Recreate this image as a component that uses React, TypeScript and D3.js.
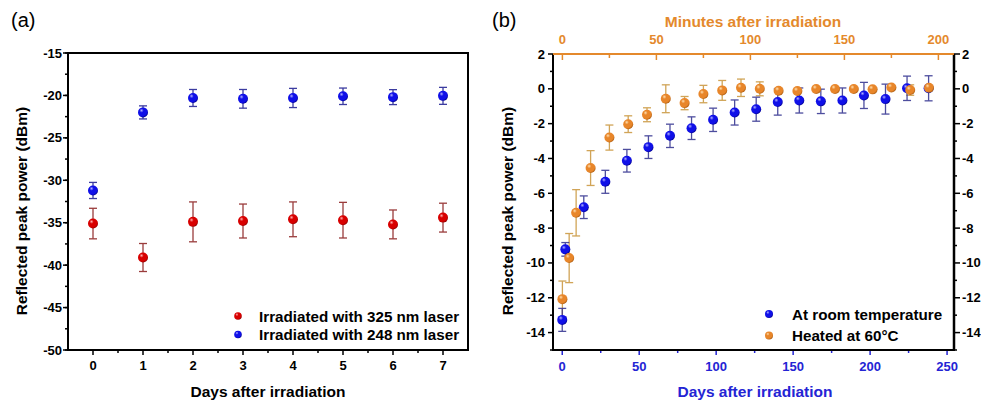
import React from 'react';
import * as d3 from 'd3';

// ---------- Panel (a) data ----------
const daysA = [0, 1, 2, 3, 4, 5, 6, 7];
const laser325 = [-35.1, -39.1, -34.9, -34.8, -34.6, -34.7, -35.2, -34.4];
const laser325Err = [1.8, 1.65, 2.35, 2.0, 2.05, 2.1, 1.7, 1.7];
const laser248 = [-31.2, -22.0, -20.3, -20.4, -20.3, -20.1, -20.2, -20.05];
const laser248Err = [0.95, 0.77, 1.0, 1.1, 1.13, 0.97, 0.88, 1.0];
const yTicksA = [-50, -45, -40, -35, -30, -25, -20, -15];
const xTicksA = [0, 1, 2, 3, 4, 5, 6, 7];

// ---------- Panel (b) data ----------
const roomDays = [0, 2, 14, 28, 42, 56, 70, 84, 98, 112, 126, 140, 154, 168, 182, 196, 210, 224, 238];
const roomVals = [-13.27, -9.22, -6.8, -5.34, -4.13, -3.35, -2.7, -2.26, -1.78, -1.36, -1.17, -0.76, -0.67, -0.72, -0.67, -0.38, -0.59, 0.03, 0.03];
const roomErr = [0.66, 0.39, 0.65, 0.66, 0.65, 0.65, 0.67, 0.65, 0.67, 0.72, 0.69, 0.75, 0.72, 0.7, 0.72, 0.75, 0.86, 0.7, 0.72];
const heatedMin = [0, 3.6, 7.3, 15, 25, 35, 45, 55, 65, 75, 85, 95, 105, 115, 125, 135, 145, 155, 165, 175, 185, 195];
const heatedVals = [-12.08, -9.72, -7.12, -4.55, -2.8, -2.03, -1.49, -0.57, -0.82, -0.3, -0.09, 0.06, 0.0, -0.11, -0.13, -0.01, -0.01, -0.01, -0.03, 0.08, -0.07, 0.06];
const heatedErr = [1.04, 1.41, 1.33, 1.0, 0.72, 0.48, 0.4, 0.8, 0.38, 0.5, 0.57, 0.5, 0.4, 0.1, 0.1, 0.05, 0.05, 0.05, 0.05, 0.05, 0.3, 0.1];
const yTicksB = [-14, -12, -10, -8, -6, -4, -2, 0, 2];
const dayTicksB = [0, 50, 100, 150, 200, 250];
const minTicksB = [0, 50, 100, 150, 200];

const FONT = "'Liberation Sans', Arial, Helvetica, sans-serif";
const ORANGE = '#E4892C';
const BLUE_TXT = '#2424D4';

function Ball({ cx, cy, r, id }: { cx: number; cy: number; r: number; id: string }) {
  return <circle cx={cx} cy={cy} r={r} fill={`url(#${id})`} />;
}

function ErrBar({ x, y1, y2, color, cap = 4, opacity = 1 }: any) {
  return (
    <g stroke={color} strokeWidth={1.3} opacity={opacity}>
      <line x1={x} x2={x} y1={y1} y2={y2} />
      <line x1={x - cap} x2={x + cap} y1={y1} y2={y1} />
      <line x1={x - cap} x2={x + cap} y1={y2} y2={y2} />
    </g>
  );
}

function Grad({ id, light, main, dark }: any) {
  return (
    <radialGradient id={id} cx="38%" cy="35%" r="70%" fx="35%" fy="30%">
      <stop offset="0%" stopColor={light} />
      <stop offset="30%" stopColor={main} />
      <stop offset="75%" stopColor={main} />
      <stop offset="100%" stopColor={dark} />
    </radialGradient>
  );
}

export default function App() {
  // Panel (a) scales
  const xa = d3.scaleLinear().domain([-0.5, 7.5]).range([68, 468]);
  const ya = d3.scaleLinear().domain([-50, -15]).range([350, 53]);
  // Panel (b) scales
  const xd = d3.scaleLinear().domain([-6, 254.5]).range([553, 954]);
  const xm = d3.scaleLinear().domain([-5, 208.3]).range([553, 954]);
  const yb = d3.scaleLinear().domain([-15, 2]).range([350, 54]);

  const yMinorA = d3.range(-50, -15 + 0.01, 2.5);
  const xMinorA = d3.range(-0.5 + 0.5, 7.5, 0.5).filter((v) => v % 1 !== 0);
  const yMinorB = d3.range(-15, 2, 1).filter((v) => Math.abs(v) % 2 === 1);
  const dayMinorB = [25, 75, 125, 175, 225];
  const minMinorB = [25, 75, 125, 175];

  return (
    <svg
      width={981}
      height={401}
      style={{ position: 'absolute', left: 0, top: 0, background: '#fff' }}
      fontFamily={FONT}
    >
      <defs>
        <Grad id="gRed" light="#ffb0b0" main="#d80000" dark="#8a0000" />
        <Grad id="gBlue" light="#b0b0ff" main="#1010e8" dark="#000088" />
        <Grad id="gOrange" light="#ffe0b0" main="#e8862a" dark="#a85a10" />
      </defs>
      <rect x={0} y={0} width={981} height={401} fill="#fff" />

      {/* ================= Panel (a) ================= */}
      <text x={11} y={27} fontSize={20}>(a)</text>
      {/* y ticks */}
      <g stroke="#000" strokeWidth={1.5}>
        {yMinorA.map((v) => (
          <line key={'ym' + v} x1={xa(-0.5) - 3} x2={xa(-0.5)} y1={ya(v)} y2={ya(v)} />
        ))}
        {yTicksA.map((v) => (
          <line key={'yM' + v} x1={xa(-0.5) - 5} x2={xa(-0.5)} y1={ya(v)} y2={ya(v)} />
        ))}
        {xMinorA.map((v) => (
          <line key={'xm' + v} x1={xa(v)} x2={xa(v)} y1={ya(-50)} y2={ya(-50) + 3} />
        ))}
        {xTicksA.map((v) => (
          <line key={'xM' + v} x1={xa(v)} x2={xa(v)} y1={ya(-50)} y2={ya(-50) + 5} />
        ))}
      </g>
      <g fontSize={13} fontWeight="bold" fill="#000">
        {yTicksA.map((v) => (
          <text key={'yl' + v} x={62} y={ya(v) + 4.5} textAnchor="end">{v}</text>
        ))}
        {xTicksA.map((v) => (
          <text key={'xl' + v} x={xa(v)} y={370} textAnchor="middle">{v}</text>
        ))}
      </g>
      <text x={268} y={397} fontSize={15.5} fontWeight="bold" textAnchor="middle">Days after irradiation</text>
      <text transform={`translate(26.5,211) rotate(-90)`} fontSize={15.5} fontWeight="bold" textAnchor="middle">
        Reflected peak power (dBm)
      </text>

      {/* error bars */}
      {daysA.map((d, i) => (
        <ErrBar key={'e325' + i} x={xa(d)} y1={ya(laser325[i] + laser325Err[i])} y2={ya(laser325[i] - laser325Err[i])} color="#9a3c3c" />
      ))}
      {daysA.map((d, i) => (
        <ErrBar key={'e248' + i} x={xa(d)} y1={ya(laser248[i] + laser248Err[i])} y2={ya(laser248[i] - laser248Err[i])} color="#3c3ca0" />
      ))}
      {daysA.map((d, i) => (
        <Ball key={'p325' + i} cx={xa(d)} cy={ya(laser325[i])} r={5} id="gRed" />
      ))}
      {daysA.map((d, i) => (
        <Ball key={'p248' + i} cx={xa(d)} cy={ya(laser248[i])} r={5} id="gBlue" />
      ))}

      {/* legend a */}
      <Ball cx={238} cy={316} r={3.8} id="gRed" />
      <Ball cx={238} cy={334.5} r={3.8} id="gBlue" />
      <g fontSize={15.2} fontWeight="bold">
        <text x={259} y={321.5}>Irradiated with 325 nm laser</text>
        <text x={259} y={340}>Irradiated with 248 nm laser</text>
      </g>

      <rect x={68} y={53} width={400} height={297} fill="none" stroke="#000" strokeWidth={2} />

      {/* ================= Panel (b) ================= */}
      <text x={492} y={27} fontSize={20}>(b)</text>

      {/* left / right ticks */}
      <g stroke="#000" strokeWidth={1.5}>
        {yMinorB.map((v) => (
          <g key={'ybm' + v}>
            <line x1={553 - 3} x2={553} y1={yb(v)} y2={yb(v)} />
            <line x1={954} x2={954 + 3} y1={yb(v)} y2={yb(v)} />
          </g>
        ))}
        {yTicksB.map((v) => (
          <g key={'ybM' + v}>
            <line x1={553 - 5} x2={553} y1={yb(v)} y2={yb(v)} />
            <line x1={954} x2={954 + 6} y1={yb(v)} y2={yb(v)} />
          </g>
        ))}
      </g>
      {/* bottom ticks (blue, outward) */}
      <g stroke={BLUE_TXT} strokeWidth={1.5}>
        {dayMinorB.map((v) => (
          <line key={'dm' + v} x1={xd(v)} x2={xd(v)} y1={350} y2={353} />
        ))}
        {dayTicksB.map((v) => (
          <line key={'dM' + v} x1={xd(v)} x2={xd(v)} y1={350} y2={355} />
        ))}
      </g>
      {/* top ticks (orange, inward) */}
      <g stroke={ORANGE} strokeWidth={1.5}>
        {minMinorB.map((v) => (
          <line key={'mm' + v} x1={xm(v)} x2={xm(v)} y1={54} y2={58} />
        ))}
        {minTicksB.map((v) => (
          <line key={'mM' + v} x1={xm(v)} x2={xm(v)} y1={54} y2={60} />
        ))}
      </g>
      <g fontSize={13} fontWeight="bold">
        {yTicksB.map((v) => (
          <text key={'ybl' + v} x={545} y={yb(v) + 4.5} textAnchor="end">{v}</text>
        ))}
        {yTicksB.map((v) => (
          <text key={'ybr' + v} x={962} y={yb(v) + 4.5} textAnchor="start">{v}</text>
        ))}
        {dayTicksB.map((v) => (
          <text key={'dl' + v} x={xd(v)} y={371} textAnchor="middle" fill={BLUE_TXT}>{v}</text>
        ))}
        {minTicksB.map((v) => (
          <text key={'ml' + v} x={xm(v)} y={44} textAnchor="middle" fill={ORANGE}>{v}</text>
        ))}
      </g>
      <text x={755} y={397} fontSize={15.5} fontWeight="bold" textAnchor="middle" fill={BLUE_TXT}>Days after irradiation</text>
      <text x={753} y={27} fontSize={15.5} fontWeight="bold" textAnchor="middle" fill={ORANGE}>Minutes after irradiation</text>
      <text transform={`translate(513,211) rotate(-90)`} fontSize={15.5} fontWeight="bold" textAnchor="middle">
        Reflected peak power (dBm)
      </text>

      {/* error bars */}
      {heatedMin.map((m, i) => (
        <ErrBar key={'eh' + i} x={xm(m)} y1={yb(heatedVals[i] + heatedErr[i])} y2={yb(heatedVals[i] - heatedErr[i])} color="#c9953a" opacity={0.85} />
      ))}
      {roomDays.map((d, i) => (
        <ErrBar key={'er' + i} x={xd(d)} y1={yb(roomVals[i] + roomErr[i])} y2={yb(roomVals[i] - roomErr[i])} color="#2e2e8e" opacity={0.85} />
      ))}
      {roomDays.map((d, i) => (
        <Ball key={'pr' + i} cx={xd(d)} cy={yb(roomVals[i])} r={5} id="gBlue" />
      ))}
      {heatedMin.map((m, i) => (
        <Ball key={'ph' + i} cx={xm(m)} cy={yb(heatedVals[i])} r={5} id="gOrange" />
      ))}

      {/* legend b */}
      <Ball cx={769} cy={314} r={4} id="gBlue" />
      <Ball cx={769} cy={335.5} r={4} id="gOrange" />
      <g fontSize={15.2} fontWeight="bold">
        <text x={792} y={319.5}>At room temperature</text>
        <text x={792} y={341}>Heated at 60°C</text>
      </g>

      {/* frame b */}
      <line x1={553} x2={553} y1={54} y2={350} stroke="#000" strokeWidth={2} />
      <line x1={954} x2={954} y1={54} y2={350} stroke="#000" strokeWidth={2.5} />
      <line x1={552} x2={955} y1={350} y2={350} stroke="#000" strokeWidth={2} />
      <line x1={553} x2={954} y1={54} y2={54} stroke={ORANGE} strokeWidth={2} />
    </svg>
  );
}
